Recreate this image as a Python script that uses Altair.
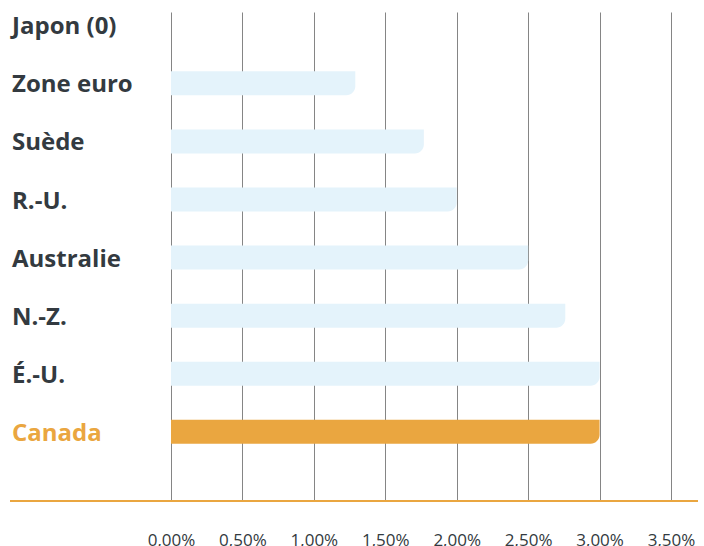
import altair as alt
import pandas as pd

countries = ["Japon (0)", "Zone euro", "Suède", "R.-U.", "Australie", "N.-Z.", "É.-U.", "Canada"]
values = [0.0, 1.29, 1.77, 2.0, 2.5, 2.76, 3.0, 3.0]
highlight = [False, False, False, False, False, False, False, True]
x_ticks = [0, 0.5, 1.0, 1.5, 2.0, 2.5, 3.0, 3.5]

df = pd.DataFrame({
    "pays": countries,
    "valeur": values,
    "idx": list(range(len(countries))),
    "canada": highlight,
})

FONT = "Open Sans"
DARK = "#333a40"
ORANGE = "#eaa640"
LIGHT = "#e4f3fb"

yscale = alt.Scale(domain=[-0.142, 8.104], reverse=True, nice=False, zero=False)

bars = alt.Chart(df[df.valeur > 0]).mark_bar(height=24, cornerRadiusBottomRight=9,
                                             orient="horizontal").encode(
    x=alt.X("valeur:Q",
            scale=alt.Scale(domain=[0, 3.5], nice=False, padding=0),
            axis=alt.Axis(values=x_ticks, title=None, grid=True, gridColor="#858585",
                          gridWidth=1, domain=False, ticks=False, labelPadding=31,
                          labelOverlap=False, labelFlush=False,
                          labelFont=FONT, labelFontSize=17, labelColor=DARK,
                          labelExpr="replace(format(datum.value / 100, '.2%'), '.', ',')")),
    x2=alt.datum(0),
    y=alt.Y("idx:Q", scale=yscale, axis=None),
    color=alt.Color("canada:N", scale=alt.Scale(domain=[False, True], range=[LIGHT, ORANGE]), legend=None),
)

labels = alt.Chart(df).mark_text(align="left", baseline="middle", font=FONT, fontSize=24,
                                 fontWeight="bold", dy=2).encode(
    x=alt.value(-159),
    y=alt.Y("idx:Q", scale=yscale, axis=None),
    text="pays:N",
    color=alt.Color("canada:N", scale=alt.Scale(domain=[False, True], range=[DARK, ORANGE]), legend=None),
)

baseline = alt.Chart(pd.DataFrame({"a": [0]})).mark_rule(color=ORANGE, strokeWidth=2).encode(
    x=alt.value(-161), x2=alt.value(527), y=alt.value(489)
)

chart = alt.layer(bars, labels, baseline).resolve_scale(color="independent").properties(
    width=500, height=489,
    padding={"left": 171, "top": 12, "right": 33, "bottom": 45},
    autosize=alt.AutoSizeParams(type="none"),
    background="white",
).configure_view(strokeWidth=0, stroke=None)

chart.save("out.html", embed_options={"renderer": "svg", "actions": False})
